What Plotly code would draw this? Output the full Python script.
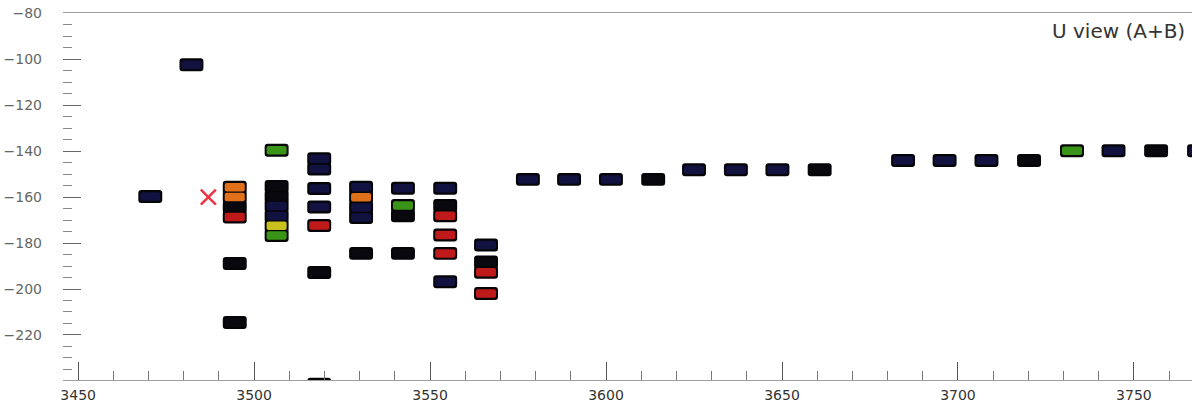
import plotly.graph_objects as go

# Hit data: wire position (x), drift coordinate (y), hit type (colour class)
hit_x = [
    3470.5,
    3482.2,
    3494.5, 3494.5, 3494.5, 3494.5, 3494.5, 3494.5,
    3506.4, 3506.4, 3506.4, 3506.4, 3506.4, 3506.4, 3506.4,
    3518.5, 3518.5, 3518.5, 3518.5, 3518.5, 3518.5, 3518.5,
    3530.4, 3530.4, 3530.4, 3530.4, 3530.4,
    3542.3, 3542.3, 3542.3, 3542.3,
    3554.3, 3554.3, 3554.3, 3554.3, 3554.3, 3554.3,
    3565.9, 3565.9, 3565.9, 3565.9,
    3577.8, 3589.5, 3601.4, 3613.4,
    3625.0, 3636.9, 3648.7, 3660.7,
    3684.4, 3696.2, 3708.1, 3720.2,
    3732.4, 3744.2, 3756.3, 3768.5,
]
hit_y = [
    -159.8,
    -102.4,
    -155.7, -160.0, -164.3, -168.7, -188.9, -214.6,
    -139.6, -155.4, -159.7, -163.9, -168.2, -172.5, -176.7,
    -143.3, -147.8, -156.3, -164.3, -172.4, -192.8, -241.5,
    -155.7, -160.1, -164.5, -168.9, -184.5,
    -156.2, -163.7, -168.1, -184.5,
    -156.2, -163.7, -168.1, -176.5, -184.5, -196.8,
    -180.9, -188.3, -192.7, -202.0,
    -152.3, -152.3, -152.3, -152.3,
    -148.1, -148.1, -148.1, -148.1,
    -144.1, -144.1, -144.1, -144.1,
    -139.8, -139.8, -139.8, -139.8,
]
hit_type = [
    "navy",
    "navy",
    "orange", "orange", "black", "red", "black", "black",
    "green", "black", "black", "navy", "navy", "yellow", "green",
    "navy", "navy", "navy", "navy", "red", "black", "black",
    "navy", "orange", "navy", "navy", "black",
    "navy", "green", "black", "black",
    "navy", "black", "red", "red", "red", "navy",
    "navy", "black", "red", "red",
    "navy", "navy", "navy", "black",
    "navy", "navy", "navy", "black",
    "navy", "navy", "navy", "black",
    "green", "navy", "black", "navy",
]

marker_x = [3487.0]
marker_y = [-160.0]

x_ticks = [3450, 3500, 3550, 3600, 3650, 3700, 3750]
y_ticks = [-80, -100, -120, -140, -160, -180, -200, -220]

type_colors = {
    "navy": "#121240",
    "black": "#08080e",
    "green": "#3a9418",
    "red": "#be1a1a",
    "orange": "#e0701a",
    "yellow": "#c9c21e",
}

OUT_H, OUT_W = 5.65, 6.8     # outer (black) hit box
IN_H, IN_W = 3.7, 5.7        # coloured core

fig = go.Figure()
fig.add_trace(go.Bar(
    x=hit_x,
    y=[OUT_H] * len(hit_x),
    base=[v - OUT_H / 2 for v in hit_y],
    width=OUT_W,
    marker=dict(color="#050508", line=dict(width=0), cornerradius=3),
    showlegend=False, hoverinfo="skip",
))
fig.add_trace(go.Bar(
    x=hit_x,
    y=[IN_H] * len(hit_x),
    base=[v - IN_H / 2 for v in hit_y],
    width=IN_W,
    marker=dict(color=[type_colors[t] for t in hit_type], line=dict(width=0),
                cornerradius=2),
    showlegend=False, hoverinfo="x+y",
))
fig.add_trace(go.Scatter(
    x=marker_x, y=marker_y, mode="markers",
    marker=dict(symbol="x-thin", size=15, line=dict(color="#ee3344", width=2.5)),
    showlegend=False,
))

fig.update_layout(
    width=1192, height=404,
    margin=dict(l=63, r=0, t=13, b=24),
    paper_bgcolor="white", plot_bgcolor="white",
    barmode="overlay",
    font=dict(family="DejaVu Sans, sans-serif"),
    annotations=[dict(
        text="U view (A+B)", xref="paper", yref="paper", x=1, y=1,
        xanchor="right", yanchor="middle", xshift=-5, yshift=-18,
        showarrow=False, font=dict(size=20, color="#333333"),
    )],
)
fig.update_xaxes(
    range=[3445.7, 3766.5],
    tickmode="array", tickvals=x_ticks, ticktext=[str(v) for v in x_ticks],
    ticks="inside", ticklen=18, tickcolor="#555555", tickwidth=1,
    minor=dict(tick0=3450, dtick=10, ticks="inside", ticklen=9, tickcolor="#777777"),
    showline=True, linecolor="#a0a0a0", linewidth=1, mirror=True,
    showgrid=False, zeroline=False,
    tickfont=dict(size=14, color="#333333"),
    ticklabelstandoff=2,
)
fig.update_yaxes(
    range=[-239.6, -79.9],
    tickmode="array", tickvals=y_ticks,
    ticks="inside", ticklen=18, tickcolor="#666666", tickwidth=1,
    minor=dict(tick0=-80, dtick=5, ticks="inside", ticklen=9, tickcolor="#888888"),
    showline=False, showgrid=False, zeroline=False,
    tickfont=dict(size=14, color="#666666"),
    ticklabelstandoff=20,
)

fig.write_html("out.html")
